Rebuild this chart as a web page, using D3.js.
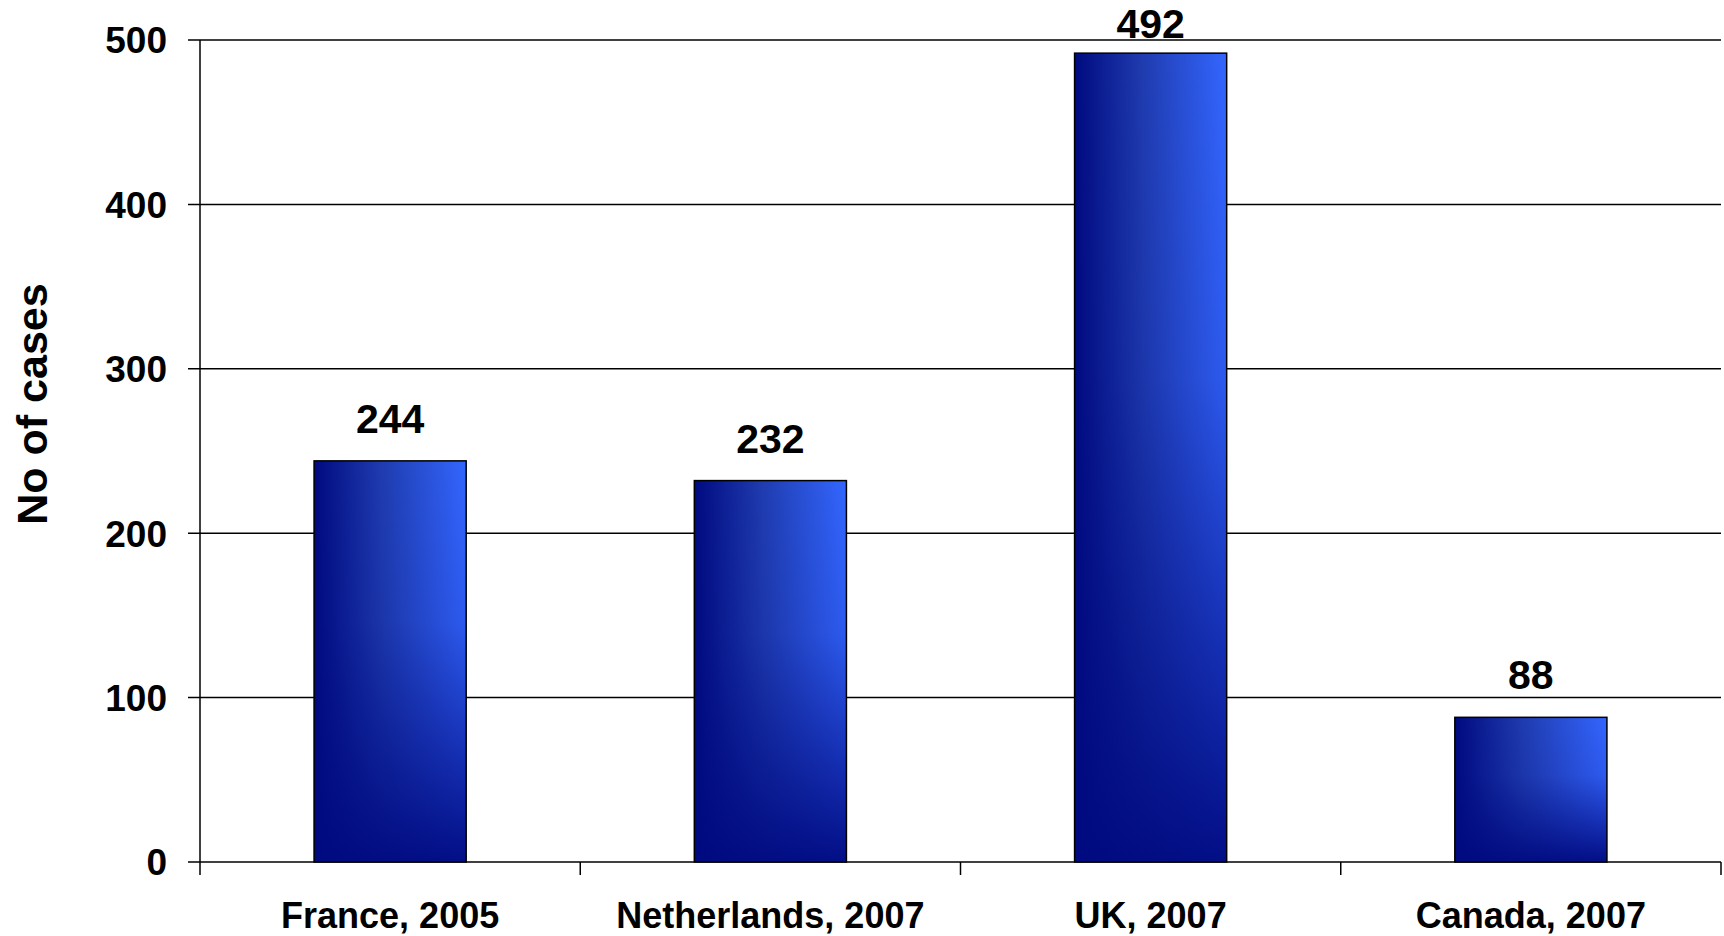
<!DOCTYPE html>
<html>
<head>
<meta charset="utf-8">
<script src="https://cdn.jsdelivr.net/npm/d3@7"></script>
<style>
  html, body { margin: 0; padding: 0; background: #fff; }
  svg { display: block; font-family: "Liberation Sans", Arial, sans-serif; font-weight: bold; }
</style>
</head>
<body>
<div id="chart"></div>
<script>
// ── Datos ─────────────────────────────────────────────
const categories = ["France, 2005", "Netherlands, 2007", "UK, 2007", "Canada, 2007"];
const cases = [244, 232, 492, 88];
const yTicks = [0, 100, 200, 300, 400, 500];

const width = 1724, height = 936;
const margin = { top: 40, right: 3, bottom: 74, left: 200 };

const svg = d3.select("#chart").append("svg")
  .attr("width", width)
  .attr("height", height);

// ── Gradientes ────────────────────────────────────────
const defs = svg.append("defs");
const hGrad = defs.append("linearGradient")
  .attr("id", "barH").attr("x1", 0).attr("x2", 1).attr("y1", 0).attr("y2", 0);
hGrad.append("stop").attr("offset", "0%").attr("stop-color", "#000a80");
hGrad.append("stop").attr("offset", "45%").attr("stop-color", "#1f3cb0");
hGrad.append("stop").attr("offset", "100%").attr("stop-color", "#3366ff");

const vGrad = defs.append("linearGradient")
  .attr("id", "barV").attr("x1", 0).attr("x2", 0).attr("y1", 0).attr("y2", 1);
vGrad.append("stop").attr("offset", "0%").attr("stop-color", "#000a80").attr("stop-opacity", 0);
vGrad.append("stop").attr("offset", "40%").attr("stop-color", "#000a80").attr("stop-opacity", 0.12);
vGrad.append("stop").attr("offset", "100%").attr("stop-color", "#000a80").attr("stop-opacity", 0.95);

// ── Escalas ───────────────────────────────────────────
const x = d3.scaleBand()
  .domain(categories)
  .range([margin.left, width - margin.right])
  .paddingInner(0.6)
  .paddingOuter(0.3);

const xOuter = d3.scaleBand()
  .domain(categories)
  .range([margin.left, width - margin.right]);

const y = d3.scaleLinear()
  .domain([0, 500])
  .range([height - margin.bottom, margin.top]);

// ── Líneas de la grilla ───────────────────────────────
svg.append("g")
  .selectAll("line")
  .data(yTicks)
  .join("line")
  .attr("x1", margin.left - 12)
  .attr("x2", width - margin.right)
  .attr("y1", d => y(d))
  .attr("y2", d => y(d))
  .attr("stroke", "#000")
  .attr("stroke-width", 1.5);

// Eje Y
svg.append("line")
  .attr("x1", margin.left).attr("x2", margin.left)
  .attr("y1", y(500)).attr("y2", y(0))
  .attr("stroke", "#000").attr("stroke-width", 1.5);

svg.append("g")
  .selectAll("text")
  .data(yTicks)
  .join("text")
  .attr("x", margin.left - 33)
  .attr("y", d => y(d))
  .attr("dy", "0.36em")
  .attr("text-anchor", "end")
  .style("font-size", "37px")
  .text(d => d);

// Marcas eje X
const xTickPos = categories.map(c => xOuter(c)).concat([width - margin.right]);
svg.append("g")
  .selectAll("line")
  .data(xTickPos)
  .join("line")
  .attr("x1", d => d).attr("x2", d => d)
  .attr("y1", y(0)).attr("y2", y(0) + 13)
  .attr("stroke", "#000").attr("stroke-width", 1.5);

// ── Barras ────────────────────────────────────────────
const bars = svg.append("g")
  .selectAll("g")
  .data(categories.map((c, i) => ({ c, v: cases[i] })))
  .join("g");

bars.append("rect")
  .attr("x", d => x(d.c))
  .attr("y", d => y(d.v))
  .attr("width", x.bandwidth())
  .attr("height", d => y(0) - y(d.v))
  .attr("fill", "url(#barH)");

bars.append("rect")
  .attr("x", d => x(d.c))
  .attr("y", d => y(d.v))
  .attr("width", x.bandwidth())
  .attr("height", d => y(0) - y(d.v))
  .attr("fill", "url(#barV)")
  .attr("stroke", "#000")
  .attr("stroke-width", 1.5);

// Etiquetas de valor
bars.append("text")
  .attr("x", d => x(d.c) + x.bandwidth() / 2)
  .attr("y", d => Math.max(38, y(d.v) - 28))
  .attr("text-anchor", "middle")
  .style("font-size", "41px")
  .text(d => d.v);

// Etiquetas de categoría
svg.append("g")
  .selectAll("text")
  .data(categories)
  .join("text")
  .attr("x", d => xOuter(d) + xOuter.bandwidth() / 2)
  .attr("y", 928)
  .attr("text-anchor", "middle")
  .style("font-size", "36px")
  .text(d => d);

// Título eje Y
svg.append("text")
  .attr("transform", `translate(47,404) rotate(-90)`)
  .attr("text-anchor", "middle")
  .style("font-size", "43px")
  .text("No of cases");
</script>
</body>
</html>
